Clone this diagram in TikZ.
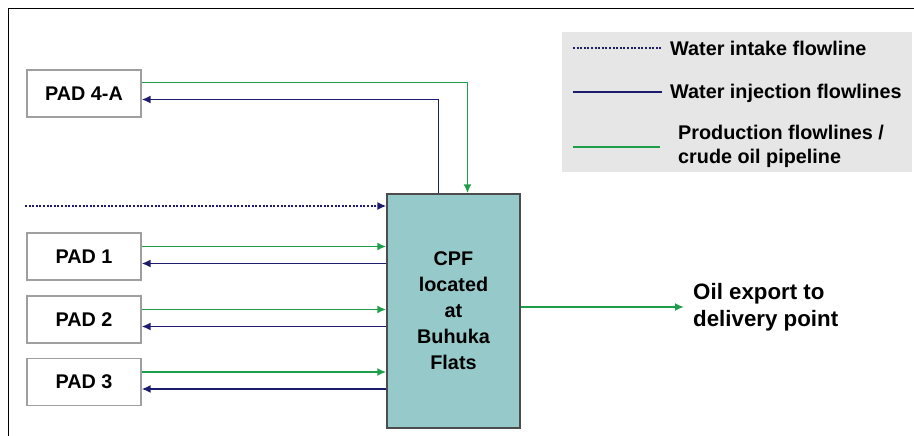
\documentclass[tikz,border=0pt]{standalone}
\usepackage{fontspec}
\setmainfont{Liberation Sans}
\usetikzlibrary{arrows.meta,positioning}

\begin{document}
\begin{tikzpicture}[x=1pt,y=-1pt,
  font=\bfseries\fontsize{19.8}{26}\selectfont,
  padbox/.style={draw=gray!75, line width=1.2pt, fill=white,
    minimum width=114pt, minimum height=47pt, inner sep=0pt},
  cpfbox/.style={draw=black!70, line width=1.4pt, fill=bleuCPF,
    minimum width=133pt, minimum height=234pt, inner sep=0pt, align=center},
  lbl/.style={anchor=west, inner sep=0pt, align=left},
  prod/.style={draw=vertProd, line width=1.8pt},
  inj/.style={draw=bleuInj, line width=1.8pt},
  intake/.style={draw=bleuInj, line width=1.6pt, dash pattern=on 2pt off 1.6pt},
  fleche/.style={-{Latex[length=9pt,width=8pt]}}]

% Couleurs
\definecolor{vertProd}{RGB}{30,158,72}
\definecolor{bleuInj}{RGB}{28,28,110}
\definecolor{bleuCPF}{RGB}{150,202,202}
\definecolor{grisLeg}{RGB}{230,230,230}

\useasboundingbox (0,0) rectangle (914,436);

% Cadre
\draw[line width=1pt] (8,436) -- (8,9) -- (914,9);

% Legende
\node[fill=grisLeg, minimum width=350pt, minimum height=140pt, inner sep=0pt] (legend) at (737,102) {};
\coordinate (L1) at (573,48);
\coordinate (L2) at (573,92);
\coordinate (L3) at (573,147);
\draw[intake] (L1) -- ++(89,0);
\draw[inj] (L2) -- ++(89,0);
\draw[prod] (L3) -- ++(87,0);
\node[lbl] (legIntake) at (670,48) {Water intake flowline};
\node[lbl] (legInj) at (670,93) {Water injection flowlines};
\node[lbl, font=\bfseries\fontsize{19.8}{24}\selectfont] (legProd) at (678,146) {Production flowlines /\\crude oil pipeline};

% CPF et pads
\node[cpfbox] (cpf) at (453.5,311) {CPF\\located\\at\\Buhuka\\Flats};
\node[padbox] (pad4) at (84,93.5) {PAD 4-A};
\node[padbox] (pad1) at (84,256.5) {PAD 1};
\node[padbox] (pad2) at (84,319.5) {PAD 2};
\node[padbox] (pad3) at (84,382) {PAD 3};

% PAD 4-A
\draw[prod,fleche] ([yshift=11pt]pad4.east) -| ([xshift=14pt]cpf.north);
\draw[inj,fleche] ([xshift=-15pt]cpf.north) |- ([yshift=-6pt]pad4.east);

% Prise d'eau
\coordinate (intake) at (25,206);
\draw[intake,fleche] (intake) -- (intake -| cpf.west);

% PAD 1, 2, 3
\foreach \P in {pad1,pad2,pad3}
  {
    \draw[prod,fleche] ([yshift=10pt]\P.east) -- ([yshift=10pt]\P.east -| cpf.west);
    \draw[inj,fleche] ([yshift=-7pt]\P.east -| cpf.west) -- ([yshift=-7pt]\P.east);
  }

% Export
\node[lbl, font=\bfseries\fontsize{22.3}{27}\selectfont] (export) at (693,307) {Oil export to\\delivery point};
\draw[prod,fleche] ([yshift=4pt]cpf.east) -- ([xshift=-9pt,yshift=4pt]cpf.east -| export.west);

\end{tikzpicture}
\end{document}
